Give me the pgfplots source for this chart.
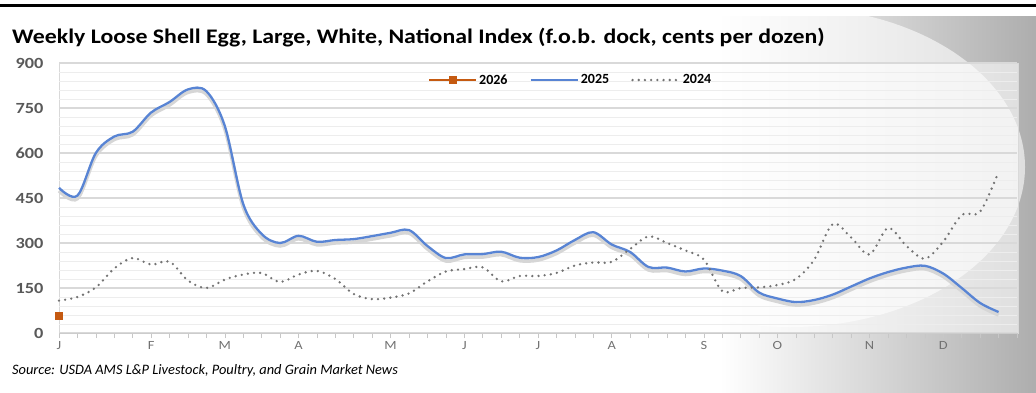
\documentclass[border=0pt]{standalone}
\usepackage{pgfplots}
\pgfplotsset{compat=1.18}
\usepackage{fontspec}
\setmainfont{Carlito}
\newfontfamily\widefont[FakeStretch=1.15]{Carlito}
\newfontfamily\ywidefont[FakeStretch=1.18]{Carlito}
\definecolor{blue25}{RGB}{88,132,212}
\definecolor{gray24}{RGB}{115,115,115}
\definecolor{orange26}{RGB}{197,90,17}
\definecolor{ticklab}{RGB}{89,89,89}
\begin{document}
\begin{tikzpicture}
\path[use as bounding box] (0,0) rectangle (1036pt,392pt);
% background
\shade[left color=white, right color=black!32] (720pt,0pt) rectangle (1036pt,375pt);
\fill[white, opacity=0.6] (790pt,225pt) ellipse (235pt and 160pt);
\fill[black] (0pt,385.3pt) rectangle (1036pt,388pt);
\fill[white, opacity=0.6] (59pt,59pt) rectangle (1018pt,329pt);
\draw[white!85!black, line width=0.6pt] (59pt,59pt) rectangle (1018pt,329pt);
\node[anchor=west, font=\widefont\fontsize{20.7}{24}\selectfont\bfseries, inner sep=0pt] at (12pt,354pt) {Weekly Loose Shell Egg, Large, White, National Index (f.o.b. dock, cents per dozen)};
\node[anchor=west, font=\fontsize{14.4}{17}\selectfont\itshape, inner sep=0pt] at (12pt,21pt) {Source: USDA AMS L\&P Livestock, Poultry, and Grain Market News};
\begin{axis}[
  at={(59pt,59pt)}, anchor=south west,
  scale only axis, width=958pt, height=270pt,
  xmin=0, xmax=52, ymin=0, ymax=900,
  clip=false,
  axis x line*=bottom, axis y line*=left,
  x axis line style={draw=black!20, line width=0.8pt},
  y axis line style={draw=none},
  xtick={0,5,9,13,18,22,26,30,35,39,44,48},
  xticklabels={J,F,M,A,M,J,J,A,S,O,N,D},
  minor xtick={0,...,52},
  tick align=outside,
  major tick length=5pt, minor tick length=5pt,
  x tick style={draw=black!22, line width=0.6pt},
  xticklabel style={font=\widefont\fontsize{12.5}{14}\selectfont, text=ticklab!85, xshift=0pt},
  ytick={0,150,...,900},
  minor ytick={30,60,...,870},
  y tick style={draw=none},
  yticklabel style={font=\ywidefont\fontsize{15.5}{18}\selectfont\bfseries, text=ticklab, xshift=-7pt},
  /pgf/number format/assume math mode=true,
  ymajorgrids, yminorgrids,
  major grid style={draw=black!15, line width=1.1pt},
  minor grid style={draw=black!7, line width=0.9pt},
  legend columns=3,
  legend style={at={(0.382,0.937)}, anchor=west, draw=none, fill=none,
    font=\fontsize{14}{16}\selectfont\bfseries,
    /tikz/every even column/.append style={column sep=20pt}},
  legend image code/.code={\draw[#1, mark repeat=2, mark phase=2] plot coordinates {(0pt,0pt) (23.5pt,0pt) (47pt,0pt)};},
]
% shadows
\addplot[black!16, line width=3.5pt, smooth, tension=0.55, forget plot, transform canvas={yshift=-3pt}] coordinates {
(0,484)(1,458)(2,600)(3,655)(4,671)(5,735)(6,770)(7,812)(8,806)(9,690)(10,430)(11,330)(12,300)(13,324)(14,304)(15,310)(16,313)(17,323)(18,334)(19,343)(20,290)(21,250)(22,262)(23,263)(24,271)(25,251)(26,253)(27,275)(28,310)(29,336)(30,295)(31,270)(32,220)(33,218)(34,205)(35,215)(36,208)(37,190)(38,135)(39,115)(40,103)(41,110)(42,128)(43,155)(44,182)(45,203)(46,218)(47,224)(48,198)(49,150)(50,100)(51,70)};
\addplot[orange26, line width=2pt, mark=square*, mark size=3pt] coordinates {(0,57)};
\addlegendentry{2026}
\addplot[blue25, line width=2.3pt, smooth, tension=0.55] coordinates {
(0,484)(1,458)(2,600)(3,655)(4,671)(5,735)(6,770)(7,812)(8,806)(9,690)(10,430)(11,330)(12,300)(13,324)(14,304)(15,310)(16,313)(17,323)(18,334)(19,343)(20,290)(21,250)(22,262)(23,263)(24,271)(25,251)(26,253)(27,275)(28,310)(29,336)(30,295)(31,270)(32,220)(33,218)(34,205)(35,215)(36,208)(37,190)(38,135)(39,115)(40,103)(41,110)(42,128)(43,155)(44,182)(45,203)(46,218)(47,224)(48,198)(49,150)(50,100)(51,70)};
\addlegendentry{2025}
\addplot[gray24, line width=2.6pt, line cap=round, dash pattern=on 0pt off 6.2pt, smooth, tension=0.55] coordinates {
(0,108)(1,120)(2,152)(3,215)(4,250)(5,228)(6,238)(7,175)(8,150)(9,178)(10,195)(11,200)(12,170)(13,195)(14,207)(15,180)(16,130)(17,113)(18,118)(19,132)(20,172)(21,205)(22,213)(23,219)(24,172)(25,190)(26,190)(27,200)(28,225)(29,235)(30,237)(31,280)(32,322)(33,300)(34,275)(35,245)(36,140)(37,150)(38,152)(39,160)(40,180)(41,245)(42,363)(43,318)(44,262)(45,350)(46,290)(47,248)(48,305)(49,393)(50,405)(51,538)};
\addlegendentry{2024}
\end{axis}
\end{tikzpicture}
\end{document}
